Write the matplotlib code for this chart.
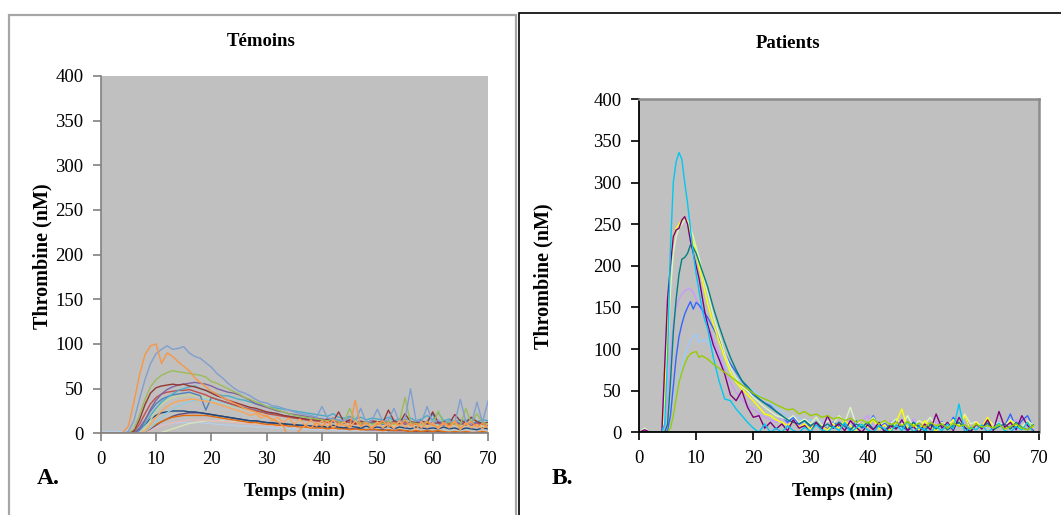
import numpy as np
import matplotlib.pyplot as plt
from matplotlib.patches import Rectangle

plt.rcParams['font.family'] = ['Liberation Serif', 'DejaVu Serif']

# ---- Témoins (controls): one value per minute, 0..70 min
t_a = list(range(0, 71))

temoins = {
    '#b9cde5': [2, 2, 2, 2, 2, 2, 2, 2, 3, 5,
                7, 9, 10, 11, 12, 12, 12, 12, 12, 11,
                11, 10, 10, 9, 9, 8, 8, 8, 7, 7,
                7, 6, 6, 6, 5, 5, 5, 5, 4, 4,
                4, 4, 4, 3, 3, 3, 3, 3, 3, 3,
                3, 3, 2, 2, 2, 2, 2, 2, 2, 2,
                2, 2, 2, 2, 2, 2, 2, 2, 2, 2, 2],
    '#d7e4bd': [0, 0, 0, 0, 0, 0, 0, 0, 0, 0,
                0, 1, 3, 5, 7, 9, 11, 12, 13, 14,
                14, 14, 14, 13, 13, 12, 12, 11, 11, 10,
                10, 9, 9, 8, 8, 8, 7, 7, 7, 6,
                6, 6, 5, 5, 5, 5, 4, 4, 4, 4,
                4, 3, 3, 3, 3, 3, 3, 2, 2, 2,
                2, 2, 2, 2, 2, 2, 1, 1, 1, 1, 1],
    '#e6b9b8': [0, 0, 0, 0, 0, 0, 0, 0, 1, 3,
                6, 8, 10, 12, 13, 14, 15, 15, 15, 15,
                14, 14, 13, 13, 12, 12, 11, 11, 10, 10,
                9, 9, 8, 8, 8, 7, 7, 7, 6, 6,
                6, 5, 5, 5, 5, 4, 4, 4, 4, 3,
                3, 3, 3, 3, 2, 2, 2, 2, 2, 2,
                2, 1, 1, 1, 1, 1, 1, 1, 1, 1, 1],
    '#5f497a': [0, 0, 0, 0, 0, 0, 0, 0, 2, 5,
                9, 13, 16, 19, 21, 22, 23, 23, 23, 22,
                21, 20, 19, 18, 17, 16, 15, 14, 14, 13,
                12, 11, 11, 10, 10, 9, 9, 8, 8, 7,
                7, 7, 6, 6, 6, 5, 5, 5, 4, 4,
                4, 4, 3, 3, 3, 3, 2, 2, 2, 2,
                2, 2, 1, 1, 1, 1, 1, 0, 1, 0, 0],
    '#e46c0a': [0, 0, 0, 0, 0, 0, 0, 0, 2, 6,
                10, 13, 16, 18, 19, 20, 20, 20, 20, 20,
                19, 18, 17, 16, 15, 14, 13, 12, 12, 11,
                10, 10, 9, 9, 8, 8, 7, 7, 6, 6,
                6, 5, 6, 5, 5, 4, 5, 4, 4, 5,
                4, 3, 4, 3, 4, 3, 2, 3, 2, 3,
                2, 3, 2, 1, 2, 1, 2, 1, 1, 2, 1],
    '#1f497d': [0, 0, 0, 0, 0, 0, 1, 4, 10, 16,
                20, 23, 24, 25, 25, 25, 24, 24, 23, 22,
                21, 20, 19, 18, 17, 16, 15, 14, 14, 13,
                12, 12, 11, 11, 10, 10, 9, 9, 8, 8,
                8, 7, 9, 7, 6, 8, 7, 6, 8, 6,
                7, 6, 8, 5, 7, 6, 5, 7, 6, 5,
                6, 5, 7, 5, 6, 4, 6, 5, 4, 6, 5],
    '#c3d69b': [0, 0, 0, 0, 0, 0, 0, 0, 5, 15,
                25, 32, 37, 40, 42, 42, 43, 42, 41, 40,
                38, 36, 34, 32, 30, 29, 27, 26, 24, 23,
                22, 21, 20, 19, 18, 17, 16, 15, 15, 14,
                13, 14, 12, 13, 11, 12, 10, 12, 11, 10,
                11, 10, 12, 9, 11, 10, 9, 11, 10, 9,
                10, 9, 11, 8, 10, 9, 8, 10, 9, 8, 9],
    '#93cddd': [0, 0, 0, 0, 0, 0, 0, 0, 2, 6,
                12, 18, 23, 27, 30, 33, 35, 37, 38, 38,
                37, 36, 34, 33, 31, 30, 28, 27, 26, 24,
                23, 22, 21, 20, 19, 18, 19, 17, 18, 16,
                17, 15, 16, 14, 15, 13, 14, 12, 13, 11,
                12, 10, 13, 11, 12, 10, 11, 13, 10, 12,
                11, 10, 12, 9, 11, 10, 12, 9, 11, 10, 9],
    '#4f81bd': [0, 0, 0, 0, 0, 0, 1, 6, 15, 25,
                33, 38, 41, 43, 44, 45, 46, 44, 42, 26,
                40, 38, 36, 34, 32, 30, 29, 27, 26, 24,
                23, 22, 21, 20, 19, 18, 17, 16, 15, 14,
                13, 15, 12, 14, 11, 13, 12, 10, 13, 11,
                12, 10, 13, 11, 12, 14, 10, 12, 11, 13,
                22, 11, 12, 10, 13, 11, 12, 10, 13, 11, 10],
    '#c0504d': [0, 0, 0, 0, 0, 0, 2, 10, 22, 33,
                40, 44, 46, 47, 48, 48, 49, 47, 45, 43,
                40, 38, 36, 34, 32, 30, 28, 27, 25, 24,
                22, 21, 20, 19, 18, 17, 16, 15, 14, 14,
                13, 12, 14, 11, 13, 12, 10, 12, 11, 13,
                10, 12, 11, 13, 10, 12, 11, 10, 12, 11,
                10, 12, 11, 9, 11, 10, 12, 9, 11, 10, 9],
    '#4bacc6': [0, 0, 0, 0, 0, 0, 0, 3, 10, 20,
                28, 35, 40, 44, 48, 50, 52, 53, 50, 48,
                46, 44, 42, 42, 40, 38, 37, 35, 33, 32,
                30, 29, 28, 27, 26, 25, 24, 23, 22, 21,
                20, 19, 22, 18, 17, 19, 16, 18, 15, 17,
                16, 15, 18, 14, 16, 15, 17, 14, 16, 20,
                15, 23, 14, 16, 13, 15, 14, 17, 13, 15, 14],
    '#8064a2': [0, 0, 0, 0, 0, 0, 0, 4, 14, 27,
                37, 44, 49, 52, 54, 55, 56, 57, 56, 55,
                53, 50, 48, 46, 45, 43, 40, 37, 33, 31,
                29, 27, 25, 24, 22, 21, 20, 19, 18, 17,
                16, 15, 17, 14, 13, 15, 12, 14, 11, 13,
                12, 14, 11, 13, 12, 10, 12, 11, 13, 10,
                12, 11, 9, 12, 10, 11, 9, 12, 10, 11, 9],
    '#953735': [0, 0, 0, 0, 0, 0, 3, 15, 32, 45,
                51, 53, 54, 55, 54, 55, 53, 52, 50, 48,
                45, 42, 40, 37, 35, 33, 31, 29, 28, 26,
                24, 23, 22, 20, 19, 18, 17, 16, 15, 15,
                14, 16, 13, 24, 12, 15, 11, 13, 12, 14,
                13, 12, 26, 14, 11, 22, 13, 12, 14, 11,
                24, 12, 13, 11, 21, 14, 12, 18, 13, 11, 12],
    '#9bbb59': [0, 0, 0, 0, 0, 0, 5, 20, 38, 52,
                60, 65, 68, 70, 69, 68, 67, 66, 65, 63,
                58, 56, 53, 50, 47, 44, 40, 38, 35, 33,
                30, 28, 26, 24, 22, 20, 19, 18, 17, 16,
                15, 14, 16, 13, 12, 28, 14, 11, 13, 10,
                12, 11, 14, 10, 13, 40, 12, 11, 10, 13,
                9, 25, 11, 12, 10, 9, 28, 11, 22, 12, 10],
    '#7f9fd0': [0, 0, 0, 0, 0, 2, 14, 38, 60, 78,
                89, 94, 98, 94, 95, 97, 90, 86, 84, 79,
                74, 67, 62, 56, 51, 47, 45, 42, 38, 35,
                34, 31, 30, 28, 26, 24, 22, 21, 20, 18,
                30, 17, 16, 15, 14, 18, 13, 28, 12, 14,
                27, 13, 15, 28, 12, 16, 50, 14, 13, 30,
                12, 15, 11, 14, 12, 38, 13, 10, 35, 12, 36],
    '#f9a65a': [0, 0, 0, 0, 0, 0, 0, 0, 3, 10,
                18, 25, 30, 34, 36, 37, 38, 38, 37, 36,
                35, 33, 31, 29, 27, 25, 23, 20, 22, 17,
                20, 14, 18, 12, 17, 10, 16, 9, 15, 8,
                14, 7, 15, 8, 13, 6, 14, 7, 12, 5,
                13, 6, 12, 5, 14, 7, 11, 4, 13, 6,
                12, 5, 11, 6, 13, 4, 12, 6, 10, 5, 11],
    '#f79646': [0, 0, 0, 0, 1, 8, 35, 65, 88, 98,
                100, 78, 90, 86, 80, 75, 70, 62, 57, 52,
                47, 44, 40, 37, 34, 31, 28, 26, 24, 21,
                19, 16, 13, 8, -5, -3, 4, 9, 6, 12,
                8, 14, 6, 11, 9, 7, 37, 8, 12, 6,
                10, 14, 7, 12, 9, 15, 8, 11, 6, 13,
                9, 7, 12, 8, 14, 6, 10, 13, 7, 11, 6],
}

# ---- Patients: finer steps around the peak, then one per minute up to 69 min
t_b = [0, 1, 2, 3, 4,
       4.5, 5, 5.5, 6, 6.5, 7, 7.5, 8, 8.5, 9, 9.5, 10, 10.5, 11, 11.5, 12,
       13, 14, 15, 16, 17, 18, 19, 20, 21, 22,
       23, 24, 25, 26, 27, 28, 29, 30, 31, 32,
       33, 34, 35, 36, 37, 38, 39, 40, 41, 42,
       43, 44, 45, 46, 47, 48, 49, 50, 51, 52,
       53, 54, 55, 56, 57, 58, 59, 60, 61, 62,
       63, 64, 65, 66, 67, 68, 69]

patients = {
    '#99ccff': [0, 0, 0, 0, 0,
                0, 0, 5, 20, 45, 65, 80, 92, 102, 110, 115, 118, 108, 110, 112, 108,
                100, 90, 80, 72, 65, 60, 55, 50, 45, 40,
                35, 30, 25, 20, 15, 18, 12, 15, 10, 14,
                8, 12, 6, 10, 9, 5, 11, 7, 10, 6,
                9, 5, 10, 4, 8, 6, 9, 3, 7, 5,
                8, 4, 9, 6, 7, 3, 8, 5, 6, 4,
                7, 5, 8, 3, 6, 4, 5],
    '#cc99ff': [0, 0, 0, 0, 0,
                5, 40, 90, 130, 150, 160, 166, 170, 172, 172, 168, 160, 152, 145, 138, 130,
                112, 95, 75, 60, 48, 40, 32, 28, 22, 18,
                15, 12, 18, 10, 14, 8, 16, 6, 12, 9,
                15, 7, 12, 10, 18, 5, 13, 20, 8, 11,
                6, 14, 9, 12, 5, 16, 8, 11, 4, 13,
                7, 10, 15, 6, 12, 9, 14, 5, 11, 8,
                13, 6, 10, 15, 7, 12, 4],
    '#3366ff': [0, 0, 0, 0, 0,
                0, 2, 20, 55, 90, 115, 130, 142, 150, 157, 148, 156, 153, 148, 143, 138,
                125, 112, 95, 82, 72, 62, 52, 45, 40, 35,
                32, 25, 20, 12, 18, 10, 14, 6, 12, 8,
                4, 12, 7, 10, 3, 14, 5, 9, 20, 6,
                11, 4, 15, 7, 2, 12, 8, 3, 10, 6,
                13, 5, 18, 9, 20, 4, 11, 7, 15, 3,
                12, 8, 22, 5, 14, 20, 6],
    '#d9f7c0': [0, 5, 0, 0, 0,
                20, 100, 170, 215, 235, 245, 250, 255, 254, 245, 235, 222, 210, 195, 180, 168,
                140, 118, 95, 78, 65, 55, 50, 42, 36, 30,
                25, 20, 18, 15, 20, 12, 16, 10, 18, 8,
                14, 10, 20, 12, 30, 9, 15, 11, 18, 8,
                13, 10, 16, 9, 20, 7, 14, 10, 18, 6,
                12, 9, 15, 8, 22, 10, 13, 7, 16, 9,
                12, 8, 15, 10, 7, 14, 9],
    '#ffff00': [0, 0, 0, 0, 0,
                40, 140, 200, 235, 245, 250, 255, 258, 252, 240, 228, 215, 200, 185, 170, 155,
                130, 110, 90, 72, 60, 52, 45, 38, 30, 22,
                20, 15, 12, 8, 14, 6, 10, 4, 12, 7,
                3, 10, 5, 14, 8, 2, 11, 6, 16, 4,
                9, 2, 12, 28, 5, 10, 3, 14, 6, 2,
                11, 4, 15, 7, 20, 3, 12, 6, 18, 5,
                10, 3, 14, 8, 4, 12, 6],
    '#008080': [0, 0, 0, 0, 0,
                0, 10, 60, 120, 160, 190, 208, 210, 215, 225, 222, 215, 205, 195, 185, 175,
                150, 128, 108, 90, 75, 62, 55, 47, 40, 35,
                30, 25, 20, 15, 12, 10, 14, 8, 12, 6,
                10, 5, 12, 7, 3, 10, 6, 12, 4, 8,
                2, 10, 5, 8, 3, 12, 6, 2, 9, 4,
                10, 3, 8, 12, 5, 2, 9, 6, 11, 3,
                7, 10, 4, 12, 6, 3, 9],
    '#800080': [0, 3, 0, 0, 0,
                80, 160, 200, 235, 243, 245, 255, 259, 250, 230, 215, 200, 185, 165, 145, 130,
                105, 88, 70, 45, 38, 50, 30, 18, 20, 5,
                12, 4, 10, 2, 15, 5, 8, 0, 12, 3,
                20, 5, 10, 2, 14, 6, 0, 9, 3, 12,
                0, 8, 4, 15, 2, 7, 0, 10, 3, 22,
                5, 12, 2, 18, 6, 0, 10, 4, 15, 2,
                25, 6, 12, 3, 20, 8, 2],
    '#00c8f0': [0, 0, 0, 0, 0,
                10, 90, 220, 300, 325, 336, 328, 300, 275, 245, 215, 190, 170, 150, 135, 125,
                90, 62, 40, 38, 28, 20, 12, 5, 0, 10,
                0, 5, 0, 8, 2, 0, 6, 1, 9, 3,
                0, 7, 2, 12, 0, 5, 10, 3, 0, 8,
                4, 0, 9, 2, 13, 0, 6, 3, 0, 7,
                2, 10, 4, 34, 0, 6, 3, 9, 0, 5,
                11, 2, 0, 7, 3, 12, 0],
    '#99cc00': [0, 0, 0, 0, 0,
                0, 0, 5, 20, 40, 60, 72, 82, 90, 94, 96, 97, 90, 92, 90, 88,
                82, 77, 72, 67, 62, 57, 52, 47, 43, 40,
                37, 33, 30, 27, 28, 22, 25, 20, 22, 18,
                20, 16, 18, 14, 17, 12, 15, 11, 16, 10,
                14, 9, 12, 8, 13, 7, 11, 6, 12, 8,
                10, 5, 11, 7, 9, 4, 10, 6, 8, 5,
                9, 4, 7, 10, 5, 3, 8],
}

W, H = 1061, 515
fig = plt.figure(figsize=(W / 100, H / 100), dpi=100)


def box(x0, y0, x1, y1):
    # pixel box (top-left origin) -> figure fraction
    return [x0 / W, 1 - y1 / H, (x1 - x0) / W, (y1 - y0) / H]


ax1 = fig.add_axes(box(100.7, 76, 488, 433.3))
ax2 = fig.add_axes(box(639, 99.3, 1039, 432.3))

for colour, vals in temoins.items():
    ax1.plot(t_a, vals, color=colour, lw=1.0)
for colour, vals in patients.items():
    ax2.plot(t_b, vals, color=colour, lw=1.0)

for ax in (ax1, ax2):
    ax.set_facecolor('#c0c0c0')
    ax.set_xlim(0, 70)
    ax.set_ylim(0, 400)
    ax.set_xticks(range(0, 71, 10))
    ax.set_yticks(range(0, 401, 50))
    ax.tick_params(labelsize=13.5, direction='out', length=5.5)
    ax.tick_params(axis='x', pad=7)
    ax.tick_params(axis='y', pad=7)

for s in ('top', 'right'):
    ax1.spines[s].set_visible(False)
for s in ('left', 'bottom'):
    ax1.spines[s].set_color('#808080')
    ax1.spines[s].set_linewidth(1.2)
ax1.tick_params(color='#808080', width=1.2)

for s in ('left', 'bottom'):
    ax2.spines[s].set_color('black')
    ax2.spines[s].set_linewidth(1.3)
for s in ('top', 'right'):
    ax2.spines[s].set_color('#8c8c8c')
    ax2.spines[s].set_linewidth(1.8)
ax2.tick_params(color='black', width=1.2)

# panel frames
fig.add_artist(Rectangle((9 / W, -0.1), (516 - 9) / W, 1 - 15 / H + 0.1,
                         transform=fig.transFigure, fill=False,
                         edgecolor='#a6a6a6', lw=1.6))
fig.add_artist(Rectangle((519 / W, -0.1), 1, 1 - 13 / H + 0.1,
                         transform=fig.transFigure, fill=False,
                         edgecolor='black', lw=1.2))

bold = dict(fontweight='bold', ha='center', va='center')
fig.text(261 / W, 1 - 42 / H, 'Témoins', fontsize=13.5, **bold)
fig.text(788 / W, 1 - 44 / H, 'Patients', fontsize=13.5, **bold)
fig.text(42 / W, 1 - 256 / H, 'Thrombine (nM)', rotation=90, fontsize=14.5, **bold)
fig.text(543 / W, 1 - 276 / H, 'Thrombine (nM)', rotation=90, fontsize=14.5, **bold)
fig.text(294 / W, 1 - 491 / H, 'Temps (min)', fontsize=13.5, **bold)
fig.text(842 / W, 1 - 491 / H, 'Temps (min)', fontsize=13.5, **bold)
fig.text(48 / W, 1 - 479 / H, 'A.', fontsize=17, **bold)
fig.text(562 / W, 1 - 479 / H, 'B.', fontsize=17, **bold)

fig.savefig('out.png', dpi=100)
